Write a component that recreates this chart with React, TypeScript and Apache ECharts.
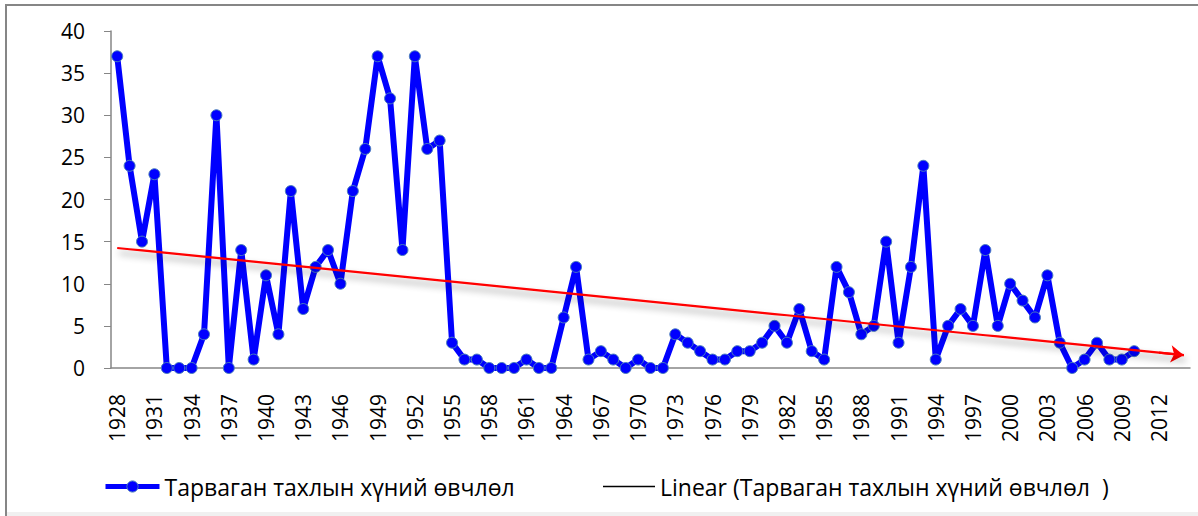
import React, { useEffect, useRef } from "react";
import * as echarts from "echarts";

const years: string[] = Array.from({ length: 87 }, (_, i) => String(1928 + i));

const cases: (number | null)[] = [
  37, 24, 15, 23, 0, 0, 0, 4, 30, 0,
  14, 1, 11, 4, 21, 7, 12, 14, 10, 21,
  26, 37, 32, 14, 37, 26, 27, 3, 1, 1,
  0, 0, 0, 1, 0, 0, 6, 12, 1, 2,
  1, 0, 1, 0, 0, 4, 3, 2, 1, 1,
  2, 2, 3, 5, 3, 7, 2, 1, 12, 9,
  4, 5, 15, 3, 12, 24, 1, 5, 7, 5,
  14, 5, 10, 8, 6, 11, 3, 0, 1, 3,
  1, 1, 2, null, null, null, null,
];

const yTicks = { min: 0, max: 40, interval: 5 };

const seriesName = "Тарваган тахлын хүний өвчлөл";
const trendName = "Linear (Тарваган тахлын хүний өвчлөл  )";

function linearTrend(vals: (number | null)[], len: number): number[] {
  const pts: [number, number][] = [];
  vals.forEach((v, i) => {
    if (v !== null) pts.push([i + 1, v]);
  });
  const n = pts.length;
  const sx = pts.reduce((a, p) => a + p[0], 0);
  const sy = pts.reduce((a, p) => a + p[1], 0);
  const sxx = pts.reduce((a, p) => a + p[0] * p[0], 0);
  const sxy = pts.reduce((a, p) => a + p[0] * p[1], 0);
  const b = (n * sxy - sx * sy) / (n * sxx - sx * sx);
  const a = (sy - b * sx) / n;
  return Array.from({ length: len }, (_, i) => +(a + b * (i + 1)).toFixed(4));
}

export default function App() {
  const ref = useRef<HTMLDivElement>(null);
  useEffect(() => {
    if (!ref.current) return;
    const chart = echarts.init(ref.current, undefined, { renderer: "svg" });
    const trend = linearTrend(cases, years.length);
    const last = years.length - 1;
    const font = "'Open Sans', 'Noto Sans', sans-serif";
    chart.setOption({
      animation: false,
      backgroundColor: "#ffffff",
      textStyle: { fontFamily: font },
      grid: { left: 111, right: 8, top: 31, bottom: 148, containLabel: false },
      legend: [
        {
          left: 103,
          top: 475,
          padding: 0,
          itemWidth: 54,
          itemHeight: 14,
          itemGap: 6,
          textStyle: { fontFamily: font, fontSize: 23, color: "#000" },
          data: [
            {
              name: seriesName,
              lineStyle: { color: "#0000FF", width: 5 },
              itemStyle: { color: "#0000FF", borderColor: "#4a7ebb", borderWidth: 1 },
            },
          ],
        },
        {
          left: 603,
          top: 475,
          padding: 0,
          itemWidth: 52,
          itemHeight: 1.3,
          itemGap: 6,
          icon: "rect",
          textStyle: { fontFamily: font, fontSize: 23, color: "#000" },
          data: [
            {
              name: trendName,
              icon: "rect",
              itemStyle: { color: "#000000", borderWidth: 0, shadowBlur: 0, shadowColor: "transparent" },
            },
          ],
        },
      ],
      graphic: [
        {
          type: "rect",
          shape: { x: 6, y: 5, width: 1200, height: 530 },
          style: { fill: "none", stroke: "#868686", lineWidth: 2 },
          silent: true,
        },
        {
          type: "rect",
          shape: { x: 7, y: 512, width: 1191, height: 4 },
          style: { fill: "#f0f0f0" },
          silent: true,
        },
      ],
      xAxis: {
        type: "category",
        data: years,
        boundaryGap: true,
        axisLine: { lineStyle: { color: "#868686", width: 1.5 } },
        axisTick: { interval: 0, length: 7, lineStyle: { color: "#868686" } },
        axisLabel: {
          interval: 2,
          rotate: 90,
          margin: 26,
          fontSize: 21,
          color: "#000",
          fontFamily: font,
        },
        splitLine: { show: false },
      },
      yAxis: {
        type: "value",
        min: yTicks.min,
        max: yTicks.max,
        interval: yTicks.interval,
        axisLine: { show: true, lineStyle: { color: "#868686", width: 1.5 } },
        axisTick: { show: true, length: 7, lineStyle: { color: "#868686" } },
        axisLabel: { margin: 26, fontSize: 21, color: "#000", fontFamily: font },
        splitLine: { show: false },
      },
      series: [
        {
          name: seriesName,
          type: "line",
          data: cases,
          z: 2,
          symbol: "circle",
          symbolSize: 11,
          showAllSymbol: true,
          connectNulls: false,
          lineStyle: { color: "#0000FF", width: 6 },
          itemStyle: { color: "#0000FF", borderColor: "#4a7ebb", borderWidth: 1 },
        },
        {
          name: trendName,
          type: "line",
          data: trend,
          z: 5,
          symbol: "none",
          lineStyle: {
            color: "#FF0000",
            width: 2.2,
            shadowColor: "rgba(0,0,0,0.45)",
            shadowBlur: 7,
            shadowOffsetX: 2,
            shadowOffsetY: 5,
          },
          itemStyle: { color: "#FF0000" },
          markLine: {
            silent: true,
            symbol: ["none", "arrow"],
            symbolSize: 13,
            label: { show: false },
            lineStyle: { color: "#FF0000", width: 2.2, type: "solid" },
            data: [
              [
                { coord: [last - 2, trend[last - 2]] },
                { coord: [last, trend[last]] },
              ],
            ],
          },
        },
      ],
    });
    return () => chart.dispose();
  }, []);
  return (
    <div
      ref={ref}
      style={{ position: "fixed", left: 0, top: 0, width: 1198, height: 516 }}
    />
  );
}
